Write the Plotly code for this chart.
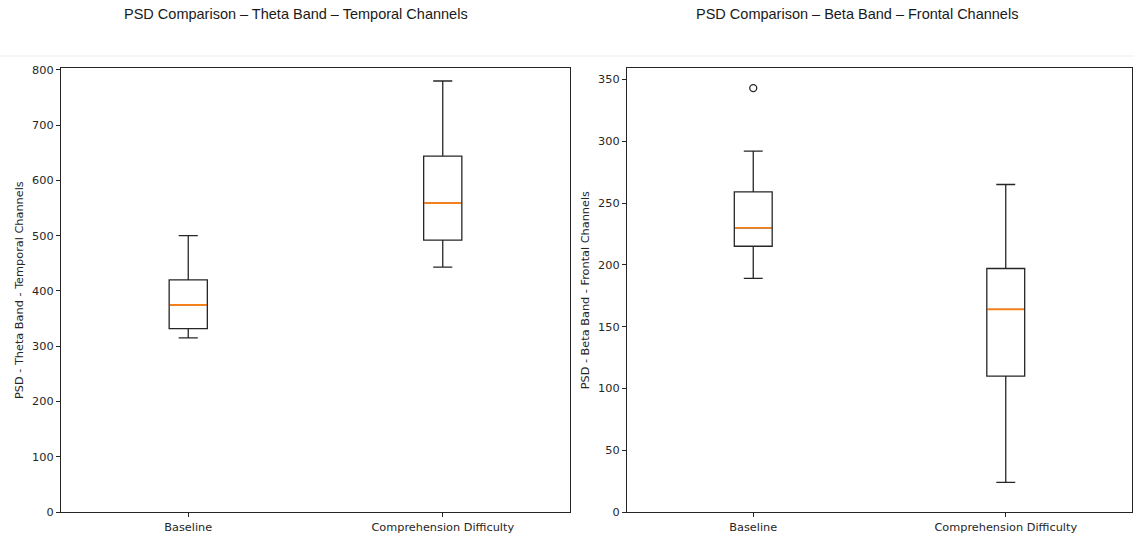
import plotly.graph_objects as go

# ---- data ----
categories = ["Baseline", "Comprehension Difficulty"]
positions = [1, 2]

theta_q1 = [332, 492]
theta_median = [375, 559]
theta_q3 = [420, 644]
theta_low = [315, 443]
theta_high = [500, 780]
theta_outliers_x = []
theta_outliers_y = []

beta_q1 = [215, 110]
beta_median = [230, 164]
beta_q3 = [259, 197]
beta_low = [189, 24]
beta_high = [292, 265]
beta_outliers_x = [1]
beta_outliers_y = [343]

left_ticks = [0, 100, 200, 300, 400, 500, 600, 700, 800]
right_ticks = [0, 50, 100, 150, 200, 250, 300, 350]

titles = ["PSD Comparison – Theta Band – Temporal Channels",
          "PSD Comparison – Beta Band – Frontal Channels"]
ylabels = ["PSD - Theta Band - Temporal Channels",
           "PSD - Beta Band - Frontal Channels"]

W, H = 1134, 536
BOX_W = 0.15
LINE = "#262626"
ORANGE = "#ff7f0e"

fig = go.Figure()


def add_panel(xa, ya, q1, med, q3, lo, hi, ox, oy):
    fig.add_trace(go.Box(
        x=positions, q1=q1, median=med, q3=q3, lowerfence=lo, upperfence=hi,
        width=BOX_W, whiskerwidth=0.5, boxpoints=False,
        line=dict(color=LINE, width=1.3), fillcolor="rgba(0,0,0,0)",
        xaxis=xa, yaxis=ya, showlegend=False, hoverinfo="skip"))
    # orange median line drawn as a degenerate box covering the black one
    fig.add_trace(go.Box(
        x=positions, q1=med, median=med, q3=med, lowerfence=med, upperfence=med,
        width=BOX_W * 0.97, whiskerwidth=0, boxpoints=False,
        line=dict(color=ORANGE, width=1.7), fillcolor="rgba(0,0,0,0)",
        xaxis=xa, yaxis=ya, showlegend=False, hoverinfo="skip"))
    if ox:
        fig.add_trace(go.Scatter(
            x=ox, y=oy, mode="markers",
            marker=dict(symbol="circle-open", size=7, color=LINE,
                        line=dict(width=1.3, color=LINE)),
            xaxis=xa, yaxis=ya, showlegend=False, hoverinfo="skip"))


add_panel("x", "y", theta_q1, theta_median, theta_q3, theta_low, theta_high,
          theta_outliers_x, theta_outliers_y)
add_panel("x2", "y2", beta_q1, beta_median, beta_q3, beta_low, beta_high,
          beta_outliers_x, beta_outliers_y)

FS = 11.3
tickfont = dict(family="DejaVu Sans", size=FS, color="#262626")
ydom = [(H - 512) / H, (H - 68.3) / H]

common_x = dict(range=[0.5, 2.5], tickvals=positions, ticktext=categories,
                showgrid=False, zeroline=False, showline=True, mirror=True,
                linecolor=LINE, linewidth=1.2, ticks="outside", ticklen=4,
                tickcolor=LINE, tickfont=tickfont, automargin=False)
common_y = dict(showgrid=False, zeroline=False, showline=True, mirror=True,
                linecolor=LINE, linewidth=1.2, ticks="outside", ticklen=4,
                tickcolor=LINE, tickfont=tickfont, automargin=False)

fig.update_layout(
    width=W, height=H,
    margin=dict(l=0, r=0, t=0, b=0),
    paper_bgcolor="white", plot_bgcolor="white",
    xaxis=dict(domain=[61 / W, 570 / W], anchor="y", **common_x),
    yaxis=dict(domain=ydom, anchor="x", range=[0, 803], tickvals=left_ticks,
               title=dict(text=ylabels[0], standoff=6,
                          font=dict(family="DejaVu Sans", size=FS, color="#262626")),
               **common_y),
    xaxis2=dict(domain=[627 / W, 1132 / W], anchor="y2", **common_x),
    yaxis2=dict(domain=ydom, anchor="x2", range=[0, 359], tickvals=right_ticks,
                title=dict(text=ylabels[1], standoff=6,
                           font=dict(family="DejaVu Sans", size=FS, color="#262626")),
                **common_y),
)

title_font = dict(family="Liberation Sans", size=14.5, color="#1a1a1a")
fig.add_annotation(text=titles[0], x=296 / W, y=(H - 14) / H, xref="paper", yref="paper",
                   showarrow=False, xanchor="center", yanchor="middle", font=title_font)
fig.add_annotation(text=titles[1], x=857 / W, y=(H - 14) / H, xref="paper", yref="paper",
                   showarrow=False, xanchor="center", yanchor="middle", font=title_font)

# faint separator line of the composite image
fig.add_shape(type="line", xref="paper", yref="paper", x0=0, x1=1,
              y0=(H - 56) / H, y1=(H - 56) / H, line=dict(color="#ededed", width=1))

fig.write_html("out.html")
